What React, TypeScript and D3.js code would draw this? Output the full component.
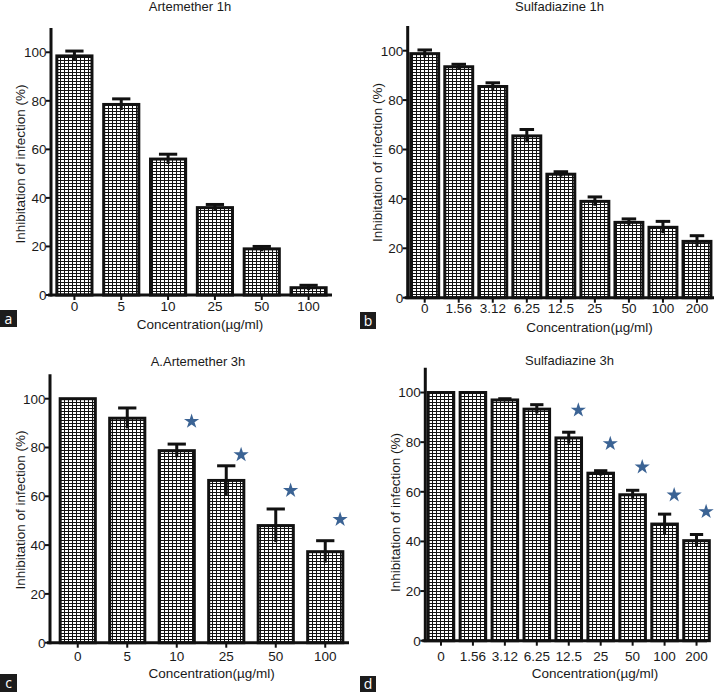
import React from "react";
import * as d3 from "d3";

// ---------- DATA ----------
const catsArtemether = ["0", "5", "10", "25", "50", "100"];
const catsSulfa = ["0", "1.56", "3.12", "6.25", "12.5", "25", "50", "100", "200"];
const yTicks = [0, 20, 40, 60, 80, 100];

const artemether1hMean = [98.5, 78.5, 56, 36, 19, 3];
const artemether1hErr = [2, 2.3, 2, 1.3, 1, 1];

const sulfa1hMean = [98.8, 93.5, 85.5, 65.5, 50, 39, 30.5, 28.5, 22.8];
const sulfa1hErr = [1.5, 1, 1.5, 2.6, 1, 1.8, 1.4, 2.4, 2.3];

const artemether3hMean = [100, 92, 78.7, 66.5, 48, 37.3];
const artemether3hErr = [0, 4.2, 2.7, 6, 6.8, 4.5];
const artemether3hStar: (number | null)[] = [null, null, 90.7, 77, 62.4, 50.5];

const sulfa3hMean = [100, 100, 97, 93.3, 81.7, 67.5, 58.8, 47, 40.3];
const sulfa3hErr = [0, 0, 0.5, 1.8, 2.3, 1, 1.8, 4, 2.5];
const sulfa3hStar: (number | null)[] = [null, null, null, null, 92.9, 79.4, 70, 58.7, 52];

const titles = ["Artemether 1h", "Sulfadiazine 1h", "A.Artemether 3h", "Sulfadiazine 3h"];
const xLabel = "Concentration(\u00b5g/ml)";
const yLabel = "Inhibitation of infection (%)";
const tags = ["a", "b", "c", "d"];

const FONT = "'Liberation Sans', Arial, Helvetica, sans-serif";
const INK = "#1a1a1a";
const STAR = "#3b6394";
const FS = 13.5;

type Layout = {
  axisX: number;
  axisEnd: number;
  r0: number;
  r1: number;
  pad: number;
  yTop: number;
  yZero: number;
  titleX: number;
  titleY: number;
  xLabX: number;
  xLabY: number;
  yLabX: number;
  yLabY: number;
  tickY: number;
  tag: { x: number; y: number; w: number; h: number };
};

const layouts: Layout[] = [
  { axisX: 51, axisEnd: 332, r0: 51, r1: 332, pad: 0.25, yTop: 28, yZero: 295, titleX: 190, titleY: 10.5, xLabX: 200, xLabY: 329, yLabX: 24.5, yLabY: 164, tickY: 310.5, tag: { x: 0, y: 310, w: 17, h: 17 } },
  { axisX: 407.7, axisEnd: 714, r0: 407.7, r1: 714, pad: 0.18, yTop: 26, yZero: 297.7, titleX: 559.5, titleY: 10.5, xLabX: 589.5, xLabY: 331.5, yLabX: 381.5, yLabY: 162.5, tickY: 313, tag: { x: 360, y: 312, w: 16, h: 17 } },
  { axisX: 50, axisEnd: 349, r0: 53, r1: 350, pad: 0.29, yTop: 374.3, yZero: 642.7, titleX: 198, titleY: 365.5, xLabX: 211.7, xLabY: 677.5, yLabX: 24.5, yLabY: 510, tickY: 661, tag: { x: 0, y: 674, w: 17, h: 18 } },
  { axisX: 425.3, axisEnd: 707, r0: 425, r1: 712.5, pad: 0.2, yTop: 367.7, yZero: 640.7, titleX: 569.5, titleY: 364.5, xLabX: 595, xLabY: 678, yLabX: 400, yLabY: 512.5, tickY: 661, tag: { x: 360, y: 676, w: 16, h: 16 } },
];

type PanelProps = {
  L: Layout;
  cats: string[];
  mean: number[];
  err: number[];
  stars?: (number | null)[];
  title: string;
  tag: string;
};

function Panel({ L, cats, mean, err, stars, title, tag }: PanelProps) {
  const x = d3
    .scaleBand<string>()
    .domain(cats)
    .range([L.r0, L.r1])
    .paddingInner(L.pad)
    .paddingOuter(L.pad / 2);
  const y = d3.scaleLinear().domain([0, 110]).range([L.yZero, L.yTop]);
  const bw = x.bandwidth();
  const step = x.step();
  const starPath = d3.symbol().type(d3.symbolStar).size(72)() as string;

  return (
    <g>
      <text x={L.titleX} y={L.titleY} textAnchor="middle" fontSize={13} fill={INK} fontFamily={FONT}>
        {title}
      </text>
      {cats.map((c, i) => (
        <rect
          key={"b" + c}
          x={x(c)!}
          y={y(mean[i])}
          width={bw}
          height={y(0) - y(mean[i])}
          fill="url(#brick)"
          stroke="#111"
          strokeWidth={3}
        />
      ))}
      {cats.map((c, i) =>
        err[i] > 0 ? (
          <g key={"e" + c} stroke="#111" strokeWidth={3}>
            <line x1={x(c)! + bw / 2} x2={x(c)! + bw / 2} y1={y(mean[i] - err[i])} y2={y(mean[i] + err[i])} />
            <line x1={x(c)! + bw / 2 - bw * 0.26} x2={x(c)! + bw / 2 + bw * 0.26} y1={y(mean[i] + err[i])} y2={y(mean[i] + err[i])} />
          </g>
        ) : null
      )}
      {stars &&
        cats.map((c, i) =>
          stars[i] != null ? (
            <path
              key={"s" + c}
              d={starPath}
              fill={STAR}
              transform={`translate(${x(c)! + bw / 2 + step * 0.3},${y(stars[i] as number)})`}
            />
          ) : null
        )}
      <line x1={L.axisX} x2={L.axisX} y1={L.yTop} y2={L.yZero + 1.5} stroke="#111" strokeWidth={3} />
      {yTicks.map((t) => (
        <g key={"yt" + t}>
          <line x1={L.axisX - 5} x2={L.axisX} y1={y(t)} y2={y(t)} stroke="#111" strokeWidth={2} />
          <text x={L.axisX - 4.5} y={y(t)} dy="0.36em" textAnchor="end" fontSize={FS} fill={INK} fontFamily={FONT}>
            {t}
          </text>
        </g>
      ))}
      <line x1={L.axisX - 3} x2={L.axisEnd} y1={L.yZero} y2={L.yZero} stroke="#111" strokeWidth={3} />
      {cats.map((c) => (
        <g key={"xt" + c}>
          <line x1={x(c)! + bw / 2} x2={x(c)! + bw / 2} y1={L.yZero} y2={L.yZero + 5} stroke="#111" strokeWidth={2} />
          <text x={x(c)! + bw / 2} y={L.tickY} textAnchor="middle" fontSize={FS} fill={INK} fontFamily={FONT}>
            {c}
          </text>
        </g>
      ))}
      <text x={L.xLabX} y={L.xLabY} textAnchor="middle" fontSize={FS} fill={INK} fontFamily={FONT}>
        {xLabel}
      </text>
      <text
        transform={`translate(${L.yLabX},${L.yLabY}) rotate(-90)`}
        textAnchor="middle"
        fontSize={FS}
        fill={INK}
        fontFamily={FONT}
      >
        {yLabel}
      </text>
      <rect x={L.tag.x} y={L.tag.y} width={L.tag.w} height={L.tag.h} fill="#1c1c1c" />
      <text
        x={L.tag.x + L.tag.w / 2}
        y={L.tag.y + L.tag.h / 2}
        dy="0.36em"
        textAnchor="middle"
        fontSize={14}
        fill="#fff"
        fontFamily="'Open Sans', 'Liberation Sans', sans-serif"
      >
        {tag}
      </text>
    </g>
  );
}

export default function App() {
  return (
    <svg
      width={714}
      height={692}
      viewBox="0 0 714 692"
      style={{ position: "absolute", left: 0, top: 0, background: "#fff" }}
    >
      <defs>
        <pattern id="brick" width={4} height={3} patternUnits="userSpaceOnUse">
          <rect width={4} height={3} fill="#111" />
          <rect x={1} y={1} width={3} height={2} fill="#fff" />
        </pattern>
      </defs>
      <rect width={714} height={692} fill="#fff" />
      <Panel L={layouts[0]} cats={catsArtemether} mean={artemether1hMean} err={artemether1hErr} title={titles[0]} tag={tags[0]} />
      <Panel L={layouts[1]} cats={catsSulfa} mean={sulfa1hMean} err={sulfa1hErr} title={titles[1]} tag={tags[1]} />
      <Panel L={layouts[2]} cats={catsArtemether} mean={artemether3hMean} err={artemether3hErr} stars={artemether3hStar} title={titles[2]} tag={tags[2]} />
      <Panel L={layouts[3]} cats={catsSulfa} mean={sulfa3hMean} err={sulfa3hErr} stars={sulfa3hStar} title={titles[3]} tag={tags[3]} />
    </svg>
  );
}
